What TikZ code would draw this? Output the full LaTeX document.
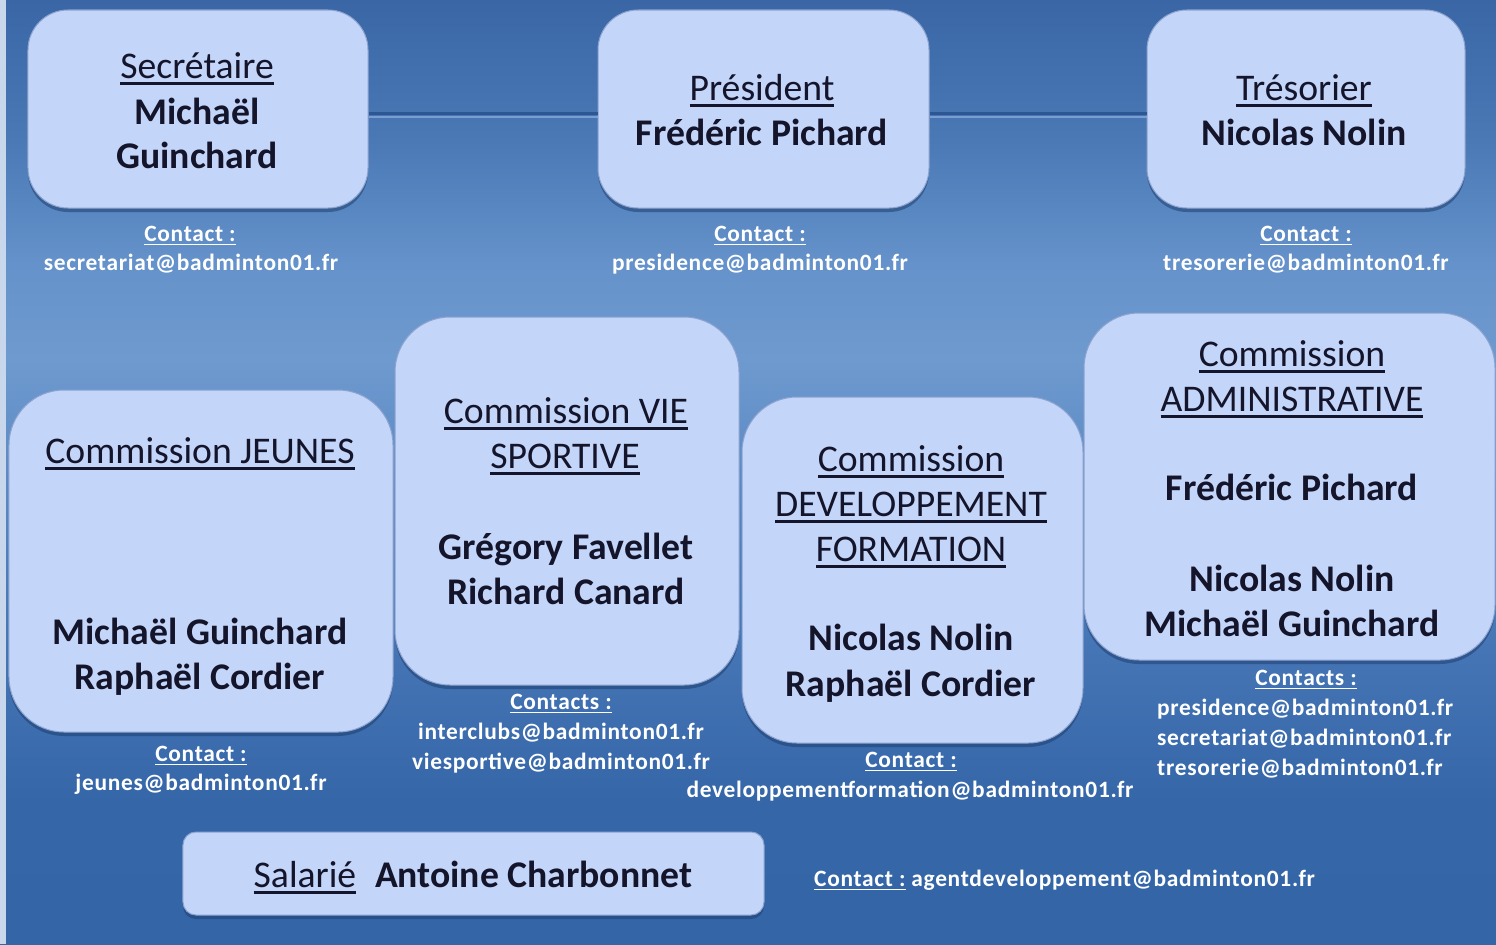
\documentclass[tikz,border=0pt]{standalone}
\usepackage{fontspec}
\setmainfont{Carlito}
\usetikzlibrary{shadows}
\definecolor{boxfill}{HTML}{C3D5F8}
\definecolor{boxline}{HTML}{8DA3CF}
\definecolor{txt}{HTML}{14142A}
\definecolor{conn}{HTML}{2C5793}
\definecolor{connhi}{HTML}{8FB0DC}
\definecolor{stripc}{HTML}{C9D7EC}
\definecolor{shad}{HTML}{1E3F70}
\definecolor{bgA}{HTML}{3465A7}
\definecolor{bgB}{HTML}{3566A8}
\definecolor{bgC}{HTML}{4E7DBB}
\definecolor{bgD}{HTML}{6E9ACF}
\definecolor{bgE}{HTML}{6592CA}
\definecolor{bgF}{HTML}{4A79B6}
\definecolor{bgG}{HTML}{3A66A5}
\pgfdeclareverticalshading{bgshade}{100bp}{color(0bp)=(bgA); color(25bp)=(bgA); color(32.5bp)=(bgB); color(45bp)=(bgC); color(56bp)=(bgD); color(61bp)=(bgE); color(67.5bp)=(bgF); color(75bp)=(bgG); color(100bp)=(bgG)}
\newcommand\ulx[1]{\setbox0=\hbox{#1}\rlap{\rule[-0.19em]{\wd0}{0.075em}}\box0}
\tikzset{
  bx/.style={draw=boxline, line width=1bp, fill=boxfill, rounded corners=#1, inner sep=0pt,
    drop shadow={shadow xshift=0bp, shadow yshift=-4bp, fill=shad, opacity=.55}},
  tx/.style={font=\fontsize{37.8}{45}\selectfont, text=txt, anchor=base, inner sep=0pt},
  ct/.style={font=\fontsize{23.5}{28}\selectfont\bfseries\addfontfeature{LetterSpace=3}, text=white, anchor=base, inner sep=0pt},
  connline/.style={draw=conn, line width=3bp},
  connhigh/.style={draw=connhi, line width=1.5bp, opacity=.7}
}
\begin{document}
\begin{tikzpicture}[x=1bp,y=-1bp]
\useasboundingbox (0,0) rectangle (1496,944);
\shade[shading=bgshade] (0,0) rectangle (1496,944);
\fill[stripc] (0,0) rectangle (6,944);

% boxes
\node[bx=40bp, minimum width=340bp, minimum height=198bp] (sec) at (198,109) {};
\node[bx=40bp, minimum width=331bp, minimum height=198bp] (pres) at (763.5,109) {};
\node[bx=40bp, minimum width=318bp, minimum height=198bp] (tres) at (1306,109) {};

% connectors
\draw[connhigh] ([yshift=-8bp]sec.east) -- ([yshift=-8bp]pres.west);
\draw[connhigh] ([yshift=-8bp]pres.east) -- ([yshift=-8bp]tres.west);
\draw[connline] ([yshift=-4bp]sec.east) -- ([yshift=-4bp]pres.west);
\draw[connline] ([yshift=-4bp]pres.east) -- ([yshift=-4bp]tres.west);

\node[bx=55bp, minimum width=384bp, minimum height=342bp] (jeu) at (201,561) {};
\node[bx=55bp, minimum width=344bp, minimum height=368bp] (vie) at (567,501) {};
\node[bx=55bp, minimum width=341bp, minimum height=346bp] (dev) at (912.5,570) {};
\node[bx=55bp, minimum width=411bp, minimum height=347bp] (adm) at (1289.5,486.5) {};
\node[bx=13bp, minimum width=581bp, minimum height=83bp] (sal) at (473.5,873.5) {};

% Secretaire
\node[tx] (secT) at (197,78) {\ulx{Secrétaire}};
\node[tx] (secN1) at (197,124) {\bfseries Michaël};
\node[tx] (secN2) at (197,168) {\bfseries Guinchard};
\node[ct] (secC) at (190,241) {\ulx{Contact :}};
\node[ct] (secE) at (191,270) {secretariat@badminton01.fr};

% President
\node[tx] (presT) at (762,100) {\ulx{Président}};
\node[tx] (presN) at (762,145) {\bfseries Frédéric Pichard};
\node[ct] (presC) at (760,241) {\ulx{Contact :}};
\node[ct] (presE) at (760,270) {presidence@badminton01.fr};

% Tresorier
\node[tx] (tresT) at (1304,100) {\ulx{Trésorier}};
\node[tx] (tresN) at (1304,145) {\bfseries Nicolas Nolin};
\node[ct] (tresC) at (1306,241) {\ulx{Contact :}};
\node[ct] (tresE) at (1306,270) {tresorerie@badminton01.fr};

% Jeunes
\node[tx] (jeuT) at (200,463) {\ulx{Commission JEUNES}};
\node[tx] (jeuN1) at (200,644) {\bfseries Michaël Guinchard};
\node[tx] (jeuN2) at (200,689) {\bfseries Raphaël Cordier};
\node[ct] (jeuC) at (201,761) {\ulx{Contact :}};
\node[ct] (jeuE) at (201,790) {jeunes@badminton01.fr};

% Vie sportive
\node[tx] (vieT1) at (566,423) {\ulx{Commission VIE}};
\node[tx] (vieT2) at (565,468) {\ulx{SPORTIVE}};
\node[tx] (vieN1) at (566,559) {\bfseries Grégory Favellet};
\node[tx] (vieN2) at (566,604) {\bfseries Richard Canard};
\node[ct] (vieC) at (561,709) {\ulx{Contacts :}};
\node[ct] (vieE1) at (561,739) {interclubs@badminton01.fr};
\node[ct] (vieE2) at (561,769) {viesportive@badminton01.fr};

% Developpement
\node[tx] (devT1) at (911,471) {\ulx{Commission}};
\node[tx] (devT2) at (911,516) {\ulx{DEVELOPPEMENT}};
\node[tx] (devT3) at (911,561) {\ulx{FORMATION}};
\node[tx] (devN1) at (911,650) {\bfseries Nicolas Nolin};
\node[tx] (devN2) at (911,696) {\bfseries Raphaël Cordier};
\node[ct] (devC) at (911,767) {\ulx{Contact :}};
\node[ct] (devE) at (910,797) {developpementformation@badminton01.fr};

% Administrative
\node[tx] (admT1) at (1292,366) {\ulx{Commission}};
\node[tx] (admT2) at (1292,411) {\ulx{ADMINISTRATIVE}};
\node[tx] (admN1) at (1292,500) {\bfseries Frédéric Pichard};
\node[tx] (admN2) at (1292,591) {\bfseries Nicolas Nolin};
\node[tx] (admN3) at (1292,636) {\bfseries Michaël Guinchard};
\node[ct] (admC) at (1306,685) {\ulx{Contacts :}};
\node[ct, anchor=base west] (admE1) at (1157,715) {presidence@badminton01.fr};
\node[ct, anchor=base west] (admE2) at (1157,745) {secretariat@badminton01.fr};
\node[ct, anchor=base west] (admE3) at (1157,775) {tresorerie@badminton01.fr};

% Salarie
\node[tx] (salT) at (473,887) {\ulx{Salarié}\hspace{0.5em}\bfseries Antoine Charbonnet};
\node[ct, anchor=base west] (salC) at (814,886) {\ulx{Contact :}\hspace{0.25em}agentdeveloppement@badminton01.fr};
\end{tikzpicture}
\end{document}
